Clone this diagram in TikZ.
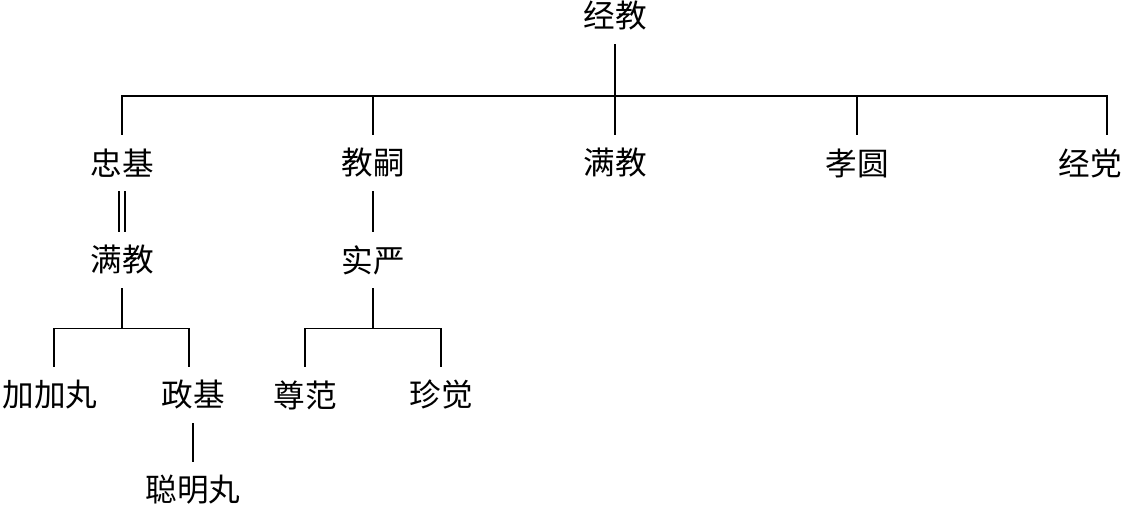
\documentclass[tikz,border=0pt]{standalone}
\usepackage{fontspec}
\newfontfamily\cjk{Noto Sans CJK SC}
\usepackage{tikz}
\usetikzlibrary{positioning}

\begin{document}
\begin{tikzpicture}[
        x=0.02cm, y=-0.02cm,
        % Define styles for the family tree
        person/.style={
            inner sep=0pt,
            minimum height=1.12cm,
            font=\cjk\fontsize{18pt}{20pt}\selectfont
        },
        link/.style={
            line width=0.8pt
        },
        marriage/.style={
            link,
            double,
            double distance=2.6pt
        }
    ]
    \useasboundingbox (0,0) rectangle (1121,508);

    % Place the head of the family
    \node[person] (jingjiao) at (615,16) {经教};

    % Place the children
    \node[person] (zhongji) at (122,163) {忠基};
    \node[person] (jiaosi) at (373,163) {教嗣};
    \node[person] (manjiao) at (615,163) {满教};
    \node[person] (xiaoyuan) at (857,163) {孝圆};
    \node[person] (jingjue) at (1090,163) {经党};

    % Place the grandchildren
    \node[person] (manjiaoB) at (122,260) {满教};
    \node[person] (shiyan) at (373,260) {实严};
    \node[person] (jiajiawan) at (50,395) {加加丸};
    \node[person] (zhengji) at (193,395) {政基};
    \node[person] (zunfan) at (305,395) {尊范};
    \node[person] (zhenjue) at (441,395) {珍觉};
    \node[person] (congming) at (193,490) {聪明丸};

    \coordinate (bar) at (615,96);

    % Draw the connections
    \draw[link] (jingjiao.south) -- (manjiao.north);
    \draw[link] (zhongji.north) |- (bar) -| ([xshift=0.34cm]jingjue.north);
    \foreach \n in {jiaosi,xiaoyuan} {
        \draw[link] (\n.north) -- (\n.north |- bar);
    }
    \draw[marriage] (zhongji.south) -- (manjiaoB.north);
    \draw[link] (jiaosi.south) -- (shiyan.north);
    \draw[link] (manjiaoB.south) -- ++(0,40) coordinate (barB);
    \draw[link] ([xshift=0.08cm]jiajiawan.north) |- (barB) -| ([xshift=-0.08cm]zhengji.north);
    \draw[link] (shiyan.south) -- ++(0,40) coordinate (barC);
    \draw[link] (zunfan.north) |- (barC) -| (zhenjue.north);
    \draw[link] (zhengji.south) -- (congming.north);

\end{tikzpicture}
\end{document}
